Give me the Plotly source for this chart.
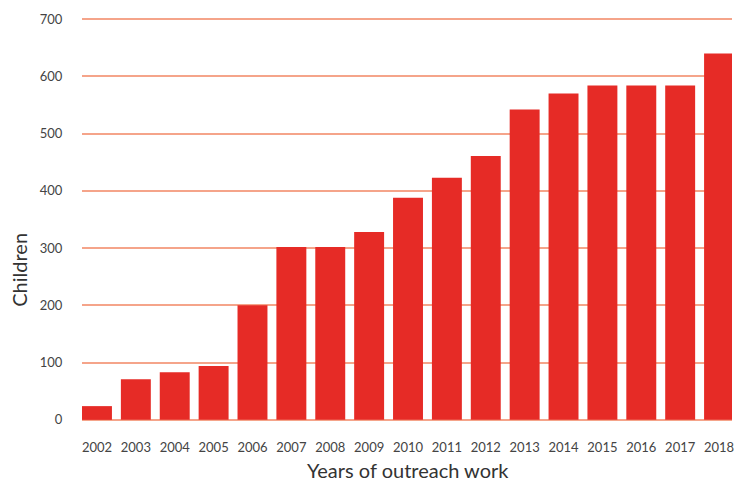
import plotly.graph_objects as go

years = ["2002", "2003", "2004", "2005", "2006", "2007", "2008", "2009", "2010",
         "2011", "2012", "2013", "2014", "2015", "2016", "2017", "2018"]
children = [24, 71, 83, 94, 200, 302, 302, 328, 388, 423, 461, 542, 570, 584, 584, 584, 640]

y_ticks = [0, 100, 200, 300, 400, 500, 600, 700]

FONT = "Lato"
TICK_COLOR = "#444444"

W, H = 734, 481
L, R = 82, 0
T, B = 18.3, 60.3
PW = W - L - R
PH = H - T - B


def px_to_paper(x, y):
    return (x - L) / PW, (H - B - y) / PH


fig = go.Figure(go.Bar(
    x=years, y=children,
    marker=dict(color="#E62B26", line=dict(width=0)),
    hoverinfo="x+y",
))

cx, cy = px_to_paper(18.5, 270)
tx, ty = px_to_paper(409, 470)

fig.update_layout(
    width=W, height=H,
    margin=dict(l=L, r=R, t=T, b=B),
    paper_bgcolor="white", plot_bgcolor="white",
    bargap=0.23,
    showlegend=False,
    font=dict(family=FONT, color=TICK_COLOR, size=13),
    xaxis=dict(
        type="category",
        range=[-0.385, 16.333],
        showgrid=False, zeroline=False, showline=False,
        ticks="outside", ticklen=14, tickcolor="rgba(0,0,0,0)",
        tickfont=dict(family=FONT, size=13, color=TICK_COLOR),
    ),
    yaxis=dict(
        range=[-2, 702],
        tickvals=y_ticks,
        showgrid=True, gridcolor="#F5A48A", gridwidth=1.5,
        zeroline=False, showline=False,
        ticks="outside", ticklen=16, tickcolor="rgba(0,0,0,0)",
        tickfont=dict(family=FONT, size=13, color=TICK_COLOR),
    ),
    annotations=[
        dict(text="Children", x=cx, y=cy, xref="paper", yref="paper",
             textangle=-90, showarrow=False, xanchor="center", yanchor="middle",
             font=dict(family=FONT, size=20, color="#333333")),
        dict(text="Years of outreach work", x=tx, y=ty, xref="paper", yref="paper",
             showarrow=False, xanchor="center", yanchor="middle",
             font=dict(family=FONT, size=20, color="#333333")),
    ],
)

fig.write_html("out.html")
